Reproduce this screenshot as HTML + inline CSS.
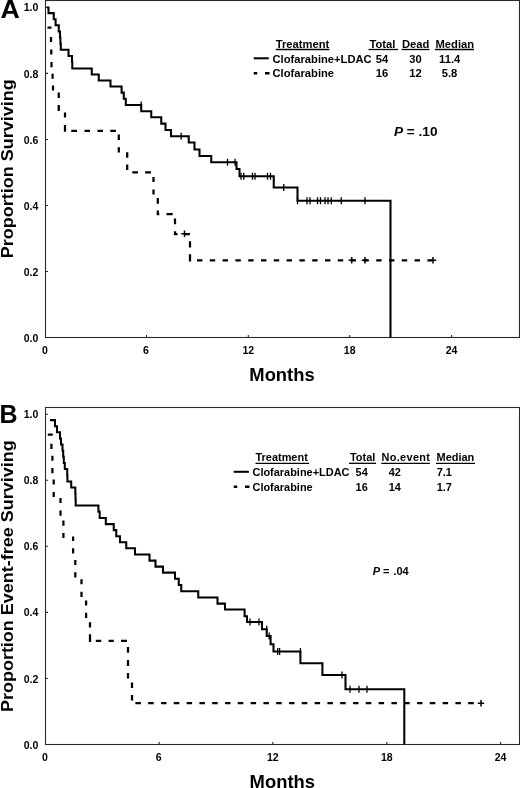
<!DOCTYPE html>
<html><head><meta charset="utf-8"><title>Figure</title>
<style>
html,body{margin:0;padding:0;background:#fff;}
svg{display:block;will-change:transform;}
text{font-family:"Liberation Sans",sans-serif;font-weight:bold;fill:#000;}
.tk{font-size:10.5px;}
.lg{font-size:11.2px;}
.lb{font-size:10.95px;}
.ax{font-size:17.1px;}
.mo{font-size:18.4px;}
.pn{font-size:25px;}
.frame{fill:none;stroke:#2a2a2a;stroke-width:1.1;}
.sol{fill:none;stroke:#000;stroke-width:2.05;stroke-linejoin:miter;}
.dsh{fill:none;stroke:#000;stroke-width:2.25;}
.cn{fill:none;stroke:#000;stroke-width:1.3;}
.pl{fill:none;stroke:#000;stroke-width:1.5;}
.ul{stroke:#000;stroke-width:1.3;}
</style></head><body>
<svg width="520" height="788" viewBox="0 0 520 788">
<rect width="520" height="788" fill="#fff"/>
<!-- ===== Panel A ===== -->
<rect class="frame" x="45.5" y="0.5" width="474" height="337"/>
<path class="frame" d="M45.5 7.40 h2.5 M45.5 73.42 h2.5 M45.5 139.44 h2.5 M45.5 205.46 h2.5 M45.5 271.48 h2.5 M45.5 337.50 h2.5 M146.50 337.50 v-2.5 M248.30 337.50 v-2.5 M349.70 337.50 v-2.5 M451.60 337.50 v-2.5"/>
<text x="38.4" y="10.80" text-anchor="end" class="tk">1.0</text>
<text x="38.4" y="77.52" text-anchor="end" class="tk">0.8</text>
<text x="38.4" y="143.54" text-anchor="end" class="tk">0.6</text>
<text x="38.4" y="209.56" text-anchor="end" class="tk">0.4</text>
<text x="38.4" y="275.58" text-anchor="end" class="tk">0.2</text>
<text x="38.4" y="341.60" text-anchor="end" class="tk">0.0</text>
<text x="45.00" y="353.80" text-anchor="middle" class="tk">0</text>
<text x="146.00" y="353.80" text-anchor="middle" class="tk">6</text>
<text x="248.30" y="353.80" text-anchor="middle" class="tk">12</text>
<text x="349.70" y="353.80" text-anchor="middle" class="tk">18</text>
<text x="451.60" y="353.80" text-anchor="middle" class="tk">24</text>
<text class="pn" transform="translate(0.6,18.3) scale(1.07,1)">A</text>
<text class="ax" transform="translate(13.4,258.3) rotate(-90) scale(1.053,1)">Proportion Surviving</text>
<text class="mo" x="282" y="381.3" text-anchor="middle">Months</text>
<path class="dsh" d="M47.50 27.60L51.50 27.60 M51.00 37.00L51.00 42.00 M51.25 49.40L51.25 54.40 M51.50 61.90L51.50 67.25 M52.60 73.75L52.60 78.75 M53.00 85.60L53.00 90.60 M58.75 92.50L58.75 98.00 M58.75 105.00L58.75 111.00 M65.00 112.50L65.00 117.50 M65.00 125.00L65.00 131.80 M71.25 130.75L77.00 130.75 M84.50 130.75L90.00 130.75 M97.50 130.75L103.00 130.75 M110.30 130.75L115.90 130.75 M118.80 134.60L118.80 140.10 M118.80 147.30L118.80 152.60 M127.20 152.30L127.20 157.80 M127.20 164.60L127.20 170.10 M132.30 172.30L138.00 172.30 M145.10 172.30L151.00 172.30 M153.50 177.00L153.50 182.00 M153.50 189.50L153.50 194.60 M157.80 198.00L157.80 203.80 M157.80 210.60L157.80 215.20 M157.80 214.00L159.30 214.00 M166.50 214.00L172.70 214.00 M175.00 218.50L175.00 224.20 M175.00 231.20L175.00 235.20 M175.00 234.00L177.50 234.00 M184.50 234.00L190.00 234.00 M190.00 241.30L190.00 247.50 M190.00 254.30L190.00 261.40 M197.00 260.30L202.40 260.30 M209.80 260.30L215.20 260.30 M222.60 260.30L228.00 260.30 M235.40 260.30L240.80 260.30 M248.20 260.30L253.60 260.30 M261.00 260.30L266.40 260.30 M273.80 260.30L279.20 260.30 M286.60 260.30L292.00 260.30 M299.40 260.30L304.80 260.30 M312.20 260.30L317.60 260.30 M325.00 260.30L330.40 260.30 M337.80 260.30L343.20 260.30 M350.60 260.30L356.00 260.30 M363.40 260.30L368.80 260.30 M376.20 260.30L381.60 260.30 M389.00 260.30L394.40 260.30 M401.80 260.30L407.20 260.30 M414.60 260.30L420.00 260.30 M427.40 260.30L432.80 260.30"/>
<path class="sol" d="M47.00 7.40 L48.50 7.40 L48.50 13.10 L53.75 13.10 L53.75 19.20 L55.60 19.20 L55.60 25.30 L58.75 25.30 L58.75 31.40 L60.00 31.40 L60.00 37.50 L60.40 37.50 L60.40 43.60 L60.80 43.60 L60.80 49.80 L68.50 49.80 L68.50 55.90 L72.00 55.90 L72.00 62.00 L72.30 62.00 L72.30 68.40 L91.75 68.40 L91.75 74.40 L98.75 74.40 L98.75 80.50 L110.50 80.50 L110.50 86.50 L121.60 86.50 L121.60 92.60 L123.80 92.60 L123.80 98.70 L125.80 98.70 L125.80 105.00 L141.25 105.00 L141.25 111.20 L151.25 111.20 L151.25 117.20 L161.25 117.20 L161.25 123.60 L165.50 123.60 L165.50 130.00 L171.00 130.00 L171.00 136.30 L188.75 136.30 L188.75 142.50 L194.50 142.50 L194.50 149.50 L199.50 149.50 L199.50 156.00 L211.25 156.00 L211.25 162.20 L236.50 162.20 L236.50 169.00 L239.50 169.00 L239.50 176.30 L273.75 176.30 L273.75 187.50 L297.50 187.50 L297.50 200.70 L390.50 200.70 L390.50 337.50"/>
<path class="cn" d="M141.20 101.50 v7 M181.20 132.80 v7 M227.50 158.70 v7 M235.00 158.70 v7 M241.00 172.80 v7 M243.75 172.80 v7 M252.50 172.80 v7 M255.00 172.80 v7 M267.50 172.80 v7 M270.50 172.80 v7 M283.75 184.00 v7 M297.50 197.20 v7 M307.00 197.20 v7 M310.00 197.20 v7 M317.50 197.20 v7 M320.50 197.20 v7 M325.00 197.20 v7 M328.00 197.20 v7 M331.25 197.20 v7 M341.25 197.20 v7 M365.00 197.20 v7"/>
<path class="pl" d="M184.50 230.55 v6.4 M181.30 233.75 h6.4 M351.70 257.10 v6.4 M348.50 260.30 h6.4 M365.00 257.10 v6.4 M361.80 260.30 h6.4 M433.00 257.10 v6.4 M429.80 260.30 h6.4"/>
<!-- legend A -->
<text class="lg" x="275.8" y="47.5">Treatment</text><path class="ul" d="M275.8 49.5H329.3"/>
<text class="lg" x="369.5" y="47.5">Total</text><path class="ul" d="M368.5 49.5H398"/>
<text class="lg" x="402" y="47.5">Dead</text><path class="ul" d="M401.5 49.5H429.5"/>
<text class="lg" x="435.5" y="47.5">Median</text><path class="ul" d="M435 49.5H474"/>
<path class="sol" d="M253.7 58.3H268.8"/>
<text class="lg" x="272.5" y="62.5">Clofarabine+LDAC</text>
<text class="lg" x="382" y="62.5" text-anchor="middle">54</text>
<text class="lg" x="415.5" y="62.5" text-anchor="middle">30</text>
<text class="lg" x="449.7" y="62.5" text-anchor="middle">11.4</text>
<path class="sol" style="stroke-width:2.4" d="M253.7 73.3H257.2M265 73.3H269.5"/>
<text class="lg" x="272.5" y="76.8">Clofarabine</text>
<text class="lg" x="382" y="76.8" text-anchor="middle">16</text>
<text class="lg" x="415.5" y="76.8" text-anchor="middle">12</text>
<text class="lg" x="449.5" y="76.8" text-anchor="middle">5.8</text>
<text x="394" y="136" style="font-size:13.6px"><tspan font-style="italic">P</tspan> = .10</text>

<!-- ===== Panel B ===== -->
<rect class="frame" x="45.5" y="407.5" width="474" height="337"/>
<path class="frame" d="M45.5 414.20 h2.5 M45.5 480.26 h2.5 M45.5 546.32 h2.5 M45.5 612.38 h2.5 M45.5 678.44 h2.5 M45.5 744.50 h2.5 M159.20 744.50 v-2.5 M272.80 744.50 v-2.5 M386.80 744.50 v-2.5 M500.60 744.50 v-2.5"/>
<text x="38.4" y="417.60" text-anchor="end" class="tk">1.0</text>
<text x="38.4" y="484.36" text-anchor="end" class="tk">0.8</text>
<text x="38.4" y="550.42" text-anchor="end" class="tk">0.6</text>
<text x="38.4" y="616.48" text-anchor="end" class="tk">0.4</text>
<text x="38.4" y="682.54" text-anchor="end" class="tk">0.2</text>
<text x="38.4" y="748.60" text-anchor="end" class="tk">0.0</text>
<text x="45.00" y="760.80" text-anchor="middle" class="tk">0</text>
<text x="158.70" y="760.80" text-anchor="middle" class="tk">6</text>
<text x="272.80" y="760.80" text-anchor="middle" class="tk">12</text>
<text x="386.80" y="760.80" text-anchor="middle" class="tk">18</text>
<text x="500.60" y="760.80" text-anchor="middle" class="tk">24</text>
<text class="pn" x="-0.4" y="422.7">B</text>
<text class="ax" transform="translate(13.4,712.1) rotate(-90) scale(1.053,1)">Proportion Event-free Surviving</text>
<text class="mo" x="282.3" y="787.8" text-anchor="middle">Months</text>
<path class="dsh" d="M47.80 434.50L52.80 434.50 M51.40 443.80L51.40 449.00 M52.40 455.70L52.40 460.70 M52.40 468.00L52.40 473.20 M53.70 479.50L53.70 484.50 M53.70 492.00L53.70 497.00 M60.50 498.00L60.50 503.00 M60.50 510.50L60.50 515.80 M63.40 520.60L63.40 525.80 M63.40 533.00L63.40 538.00 M73.10 536.60L73.10 541.00 M73.10 548.20L73.10 553.50 M75.30 560.00L75.30 565.00 M75.30 572.20L75.30 577.50 M81.50 579.30L81.50 584.20 M81.50 591.70L81.50 597.00 M86.10 600.60L86.10 605.60 M86.10 612.70L86.10 618.00 M90.00 622.30L90.00 627.60 M90.00 634.30L90.00 642.00 M95.80 640.90L101.20 640.90 M108.60 640.90L113.80 640.90 M121.00 640.90L127.00 640.90 M128.00 647.00L128.00 652.80 M128.00 660.00L128.00 666.00 M128.00 673.00L128.00 678.60 M132.00 682.50L132.00 688.00 M132.00 695.00L132.00 700.50 M135.40 703.20L140.90 703.20 M148.20 703.20L153.70 703.20 M161.00 703.20L166.50 703.20 M173.80 703.20L179.30 703.20 M186.60 703.20L192.10 703.20 M199.40 703.20L204.90 703.20 M212.20 703.20L217.70 703.20 M225.00 703.20L230.50 703.20 M237.80 703.20L243.30 703.20 M250.60 703.20L256.10 703.20 M263.40 703.20L268.90 703.20 M276.20 703.20L281.70 703.20 M289.00 703.20L294.50 703.20 M301.80 703.20L307.30 703.20 M314.60 703.20L320.10 703.20 M327.40 703.20L332.90 703.20 M340.20 703.20L345.70 703.20 M353.00 703.20L358.50 703.20 M365.80 703.20L371.30 703.20 M378.60 703.20L384.10 703.20 M391.40 703.20L396.90 703.20 M404.20 703.20L409.70 703.20 M417.00 703.20L422.50 703.20 M429.80 703.20L435.30 703.20 M442.60 703.20L448.10 703.20 M455.40 703.20L460.90 703.20 M468.20 703.20L473.70 703.20"/>
<path class="sol" d="M50.00 420.10 L55.00 420.10 L55.00 426.20 L57.00 426.20 L57.00 432.30 L60.00 432.30 L60.00 438.40 L61.00 438.40 L61.00 444.50 L62.50 444.50 L62.50 450.70 L63.20 450.70 L63.20 456.80 L63.80 456.80 L63.80 462.90 L64.80 462.90 L64.80 469.00 L67.20 469.00 L67.20 475.10 L67.40 475.10 L67.40 481.40 L71.20 481.40 L71.20 487.40 L75.30 487.40 L75.30 493.40 L75.50 493.40 L75.50 499.50 L75.70 499.50 L75.70 505.40 L98.40 505.40 L98.40 511.60 L99.70 511.60 L99.70 517.90 L105.80 517.90 L105.80 524.10 L113.75 524.10 L113.75 530.10 L116.25 530.10 L116.25 536.20 L120.00 536.20 L120.00 542.30 L126.25 542.30 L126.25 548.30 L135.00 548.30 L135.00 554.50 L149.50 554.50 L149.50 560.60 L155.50 560.60 L155.50 566.60 L163.00 566.60 L163.00 572.60 L175.00 572.60 L175.00 578.80 L178.75 578.80 L178.75 585.00 L181.25 585.00 L181.25 591.20 L198.25 591.20 L198.25 597.40 L217.50 597.40 L217.50 603.60 L225.00 603.60 L225.00 609.40 L244.60 609.40 L244.60 616.30 L247.00 616.30 L247.00 622.00 L262.00 622.00 L262.00 629.20 L266.70 629.20 L266.70 636.00 L270.60 636.00 L270.60 644.20 L273.50 644.20 L273.50 651.50 L300.40 651.50 L300.40 663.30 L322.40 663.30 L322.40 675.00 L345.50 675.00 L345.50 689.30 L404.30 689.30 L404.30 744.50"/>
<path class="cn" d="M250.00 618.50 v7 M259.00 618.50 v7 M266.70 625.70 v7 M269.20 632.50 v7 M277.70 648.00 v7 M279.60 648.00 v7 M300.40 648.00 v7 M342.00 671.50 v7 M350.00 685.80 v7 M359.00 685.80 v7 M367.00 685.80 v7"/>
<path class="pl" d="M481.00 700.00 v6.4 M477.80 703.20 h6.4"/>
<!-- legend B -->
<text class="lg lb" x="255.5" y="461.3">Treatment</text><path class="ul" d="M255.5 463.3H309"/>
<text class="lg lb" x="350" y="461.3">Total</text><path class="ul" d="M349 463.3H376"/>
<text class="lg lb" x="381.6" y="461.3" textLength="48.3" lengthAdjust="spacing">No.event</text><path class="ul" d="M381.3 463.3H430"/>
<text class="lg lb" x="436.6" y="461.3">Median</text><path class="ul" d="M436 463.3H475"/>
<path class="sol" d="M233.7 471.8H248.8"/>
<text class="lg lb" x="252.5" y="476.3">Clofarabine+LDAC</text>
<text class="lg lb" x="361.7" y="476.3" text-anchor="middle">54</text>
<text class="lg lb" x="394.8" y="476.3" text-anchor="middle">42</text>
<text class="lg lb" x="444.3" y="476.3" text-anchor="middle">7.1</text>
<path class="sol" style="stroke-width:2.4" d="M233.7 486.8H237.2M245 486.8H249.5"/>
<text class="lg lb" x="252.5" y="490.8">Clofarabine</text>
<text class="lg lb" x="361.7" y="490.8" text-anchor="middle">16</text>
<text class="lg lb" x="394.8" y="490.8" text-anchor="middle">14</text>
<text class="lg lb" x="444.3" y="490.8" text-anchor="middle">1.7</text>
<text x="372.7" y="575" style="font-size:11px"><tspan font-style="italic">P</tspan> = <tspan dx="0.8">.04</tspan></text>
</svg>
</body></html>
